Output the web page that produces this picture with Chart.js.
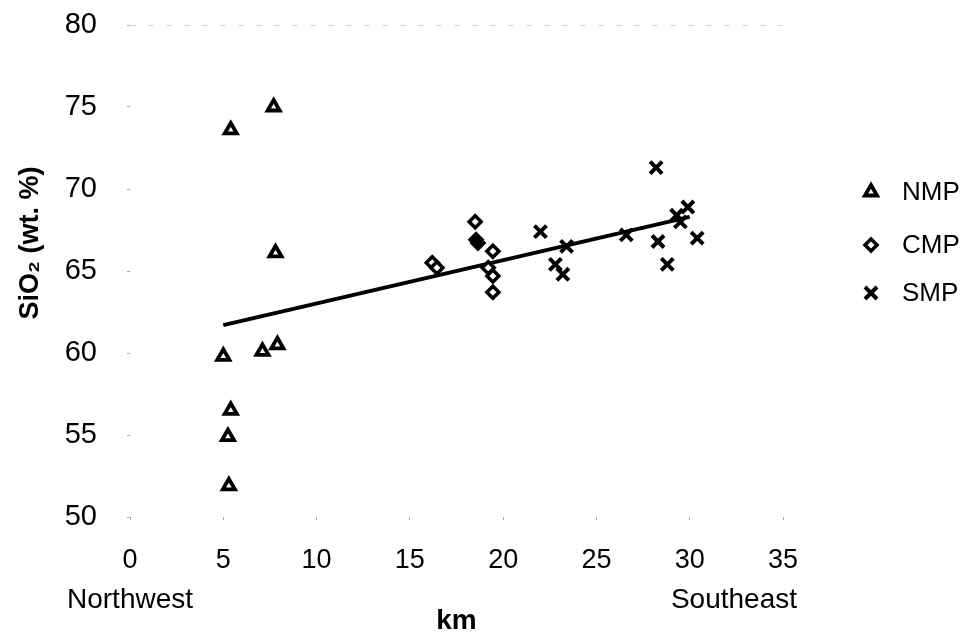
<!DOCTYPE html>
<html>
<head>
<meta charset="utf-8">
<script src="https://cdn.jsdelivr.net/npm/chart.js@4.4.0/dist/chart.umd.min.js"></script>
<style>
  html, body { margin: 0; padding: 0; background: #fff; }
  #wrap { width: 965px; height: 632px; }
</style>
</head>
<body>
<div id="wrap"><canvas id="chart" width="965" height="632"></canvas></div>
<script>
// NMP samples (triangles)
const nmpKm = [7.7, 5.4, 7.8, 7.9, 7.1, 5.0, 5.4, 5.25, 5.3];
const nmpSiO2 = [75.0, 73.6, 66.1, 60.5, 60.1, 59.8, 56.5, 54.9, 51.9];

// CMP samples (diamonds)
const cmpKm = [18.5, 18.55, 18.65, 19.45, 16.2, 16.45, 19.2, 19.45, 19.45];
const cmpSiO2 = [68.0, 66.9, 66.7, 66.2, 65.5, 65.2, 65.2, 64.7, 63.7];

// SMP samples (crosses)
const smpKm = [28.2, 29.9, 29.5, 29.3, 30.4, 26.6, 28.3, 28.8, 22.0, 23.4, 22.8, 23.2];
const smpSiO2 = [71.3, 68.9, 68.0, 68.4, 67.0, 67.2, 66.8, 65.4, 67.4, 66.5, 65.4, 64.8];

// regression line end points
const trendKm = [5.0, 30.0];
const trendSiO2 = [61.7, 68.3];

const xTicks = [0, 5, 10, 15, 20, 25, 30, 35];
const yTicks = [50, 55, 60, 65, 70, 75, 80];

const seriesNames = ['NMP', 'CMP', 'SMP'];

const font = '"Liberation Sans", Arial, sans-serif';

function toPoints(xs, ys) {
    return xs.map((x, i) => ({ x: x, y: ys[i] }));
}

const markers = [
    { pointStyle: 'triangle', radius: 7, borderWidth: 3.8 },
    { pointStyle: 'rectRot', radius: 6, borderWidth: 3.5 },
    { pointStyle: 'crossRot', radius: 8.5, borderWidth: 4 }
];

// extra labels + legend drawn on the canvas
const extraText = {
    id: 'extraText',
    afterDraw(chart) {
        const ctx = chart.ctx;
        ctx.save();
        ctx.fillStyle = '#000';
        ctx.textBaseline = 'middle';

        ctx.font = '28px ' + font;
        ctx.textAlign = 'left';
        ctx.fillText('Northwest', 67, 600);
        ctx.textAlign = 'right';
        ctx.fillText('Southeast', 797, 600);

        // y title
        ctx.save();
        ctx.translate(31, 243);
        ctx.rotate(-Math.PI / 2);
        ctx.textAlign = 'center';
        ctx.font = 'bold 27px ' + font;
        ctx.fillText('SiO\u2082 (wt. %)', 0, 0);
        ctx.restore();

        // legend
        const legendY = [192, 245, 293];
        seriesNames.forEach((name, i) => {
            const m = markers[i];
            ctx.fillStyle = '#fff';
            ctx.strokeStyle = '#000';
            ctx.lineWidth = m.borderWidth;
            Chart.helpers.drawPoint(ctx, { pointStyle: m.pointStyle, radius: m.radius, rotation: 0, borderWidth: m.borderWidth }, 871, legendY[i]);
            ctx.fillStyle = '#000';
            ctx.textAlign = 'left';
            ctx.font = '26px ' + font;
            ctx.fillText(name, 902, legendY[i] + 1);
        });
        ctx.restore();
    }
};

const datasets = [
    {
        type: 'line',
        label: 'trend',
        data: toPoints(trendKm, trendSiO2),
        borderColor: '#000',
        borderWidth: 4,
        pointRadius: 0,
        fill: false,
        order: 5
    },
    {
        label: seriesNames[0],
        data: toPoints(nmpKm, nmpSiO2),
        pointStyle: markers[0].pointStyle,
        pointRadius: markers[0].radius,
        borderWidth: markers[0].borderWidth,
        borderColor: '#000',
        backgroundColor: '#fff'
    },
    {
        label: seriesNames[1],
        data: toPoints(cmpKm, cmpSiO2),
        pointStyle: markers[1].pointStyle,
        pointRadius: markers[1].radius,
        borderWidth: markers[1].borderWidth,
        borderColor: '#000',
        backgroundColor: c => (c.dataIndex === 1 || c.dataIndex === 2) ? '#000' : '#fff'
    },
    {
        label: seriesNames[2],
        data: toPoints(smpKm, smpSiO2),
        pointStyle: markers[2].pointStyle,
        pointRadius: markers[2].radius,
        borderWidth: markers[2].borderWidth,
        borderColor: '#000',
        backgroundColor: '#000'
    }
];

new Chart(document.getElementById('chart'), {
    type: 'scatter',
    data: { datasets: datasets },
    options: {
        responsive: false,
        animation: false,
        devicePixelRatio: 1,
        layout: { padding: { left: 0, right: 182, top: 25, bottom: 0 } },
        plugins: {
            legend: { display: false },
            tooltip: { enabled: false }
        },
        scales: {
            x: {
                type: 'linear',
                min: 0,
                max: 35,
                afterBuildTicks: s => { s.ticks = xTicks.map(v => ({ value: v })); },
                afterFit: s => { s.height = 115; },
                ticks: { color: '#000', padding: 24, font: { family: font, size: 27 } },
                grid: { drawOnChartArea: false, tickColor: '#aaa', tickLength: 3 },
                border: { display: false },
                title: {
                    display: true,
                    text: 'km',
                    color: '#000',
                    padding: { top: 0, bottom: 0 },
                    font: { family: font, size: 28, weight: 'bold', lineHeight: 0.8 }
                }
            },
            y: {
                type: 'linear',
                min: 50,
                max: 80,
                afterBuildTicks: s => { s.ticks = yTicks.map(v => ({ value: v })); },
                afterFit: s => {
                    s.width = 130;
                    s.paddingTop = 0;
                    s.paddingBottom = 0;
                },
                ticks: { color: '#000', padding: 30, font: { family: font, size: 29 } },
                grid: {
                    color: c => c.tick && c.tick.value === 80 ? '#d4d4d4' : 'rgba(0,0,0,0)',
                    tickColor: '#aaa',
                    tickLength: 3
                },
                border: { display: false, dash: [6, 12] }
            }
        }
    },
    plugins: [extraText]
});
</script>
</body>
</html>
